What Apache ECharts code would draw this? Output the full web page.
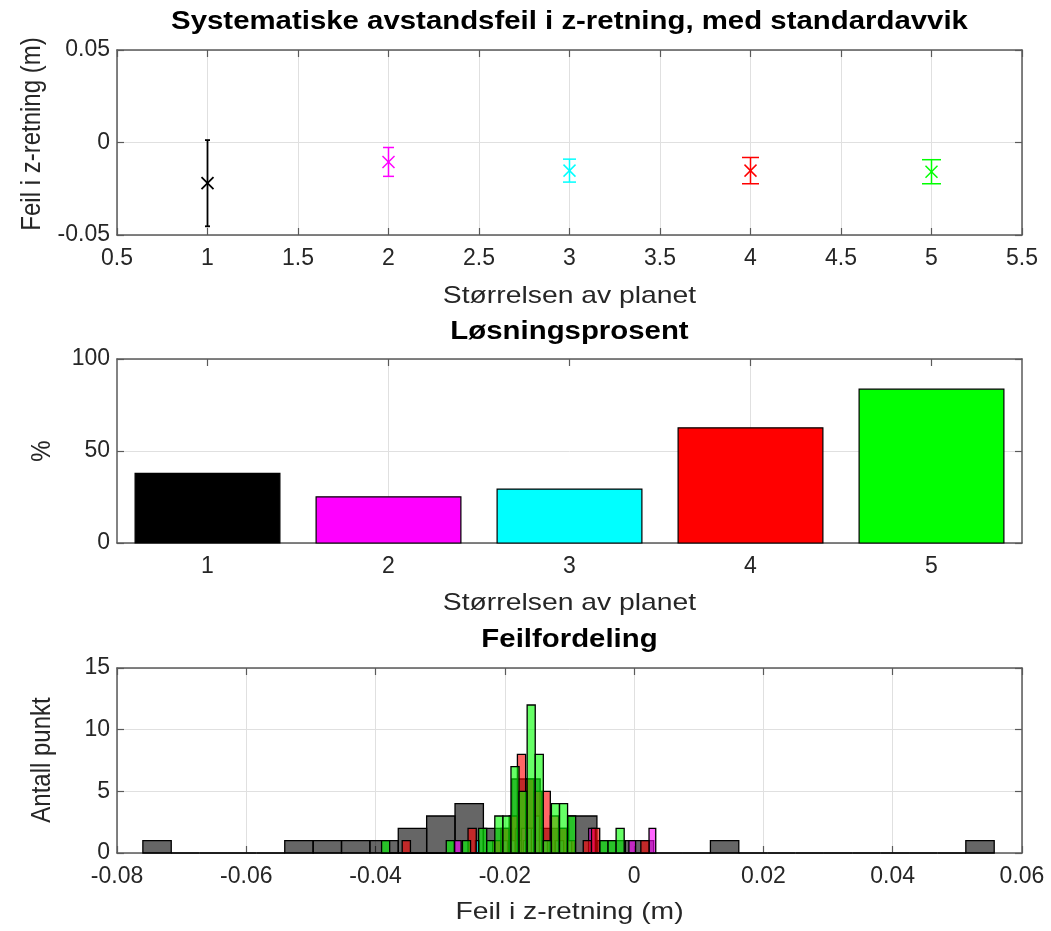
<!DOCTYPE html>
<html><head><meta charset="utf-8">
<script src="https://cdn.jsdelivr.net/npm/echarts@6/dist/echarts.min.js"></script>
<style>html,body{margin:0;padding:0;background:#fff}#c{width:1051px;height:931px}</style>
</head><body><div id="c"></div>
<script>
// ---------- data ----------
const planeSizes = [1, 2, 3, 4, 5];
const meanErr = [-0.022, -0.0105, -0.0152, -0.0152, -0.0158];
const stdErr = [0.0233, 0.0078, 0.0062, 0.0071, 0.0065];
const solvePct = [37.8, 25.1, 29.3, 62.6, 83.6];

const topXTicks = [0.5, 5.5, 0.5];     // min, max, step
const topYTicks = [-0.05, 0.05, 0.05];
const midYTicks = [0, 100, 50];
const botXTicks = [-0.08, 0.06, 0.02];
const botYTicks = [0, 15, 5];

// histogram bins: first edge, bin width, counts
const hist1Start = -0.0760, hist1Width = 0.00439;
const hist1Counts = [1,0,0,0,0,1,1,1,1,2,3,4,2,6,2,3,1,1,0,0,1,0,0,0,0,0,0,0,0,1];
const hist2Start = -0.0278, hist2Width = 0.001038;
const hist2Counts = [1,0,0,0,0,0,0,1,1,1,2,2,1,1,0,1,0,0,0,0,2,0,0,0,0,0,1,0,0,2];
const hist3Start = -0.02456, hist3Width = 0.00062;
const hist3Counts = [1,0,0,0,0,0,0,1,0,1,2,0,1,2,2,3,2,1,1,0,1,1,0,1,0,0,0,0,0,0];
const hist4Start = -0.03588, hist4Width = 0.001273;
const hist4Counts = [1,0,0,0,0,0,0,0,2,0,0,1,2,3,8,6,5,5,3,2,1,0,1,2,0,0,0,0,0,1];
const hist5Start = -0.03907, hist5Width = 0.001251;
const hist5Counts = [1,0,0,0,0,0,0,0,1,0,1,0,2,1,3,3,7,5,12,8,1,4,4,3,0,0,0,1,1,2];

// ---------- styles ----------
const colors = ['#000000', '#ff00ff', '#00ffff', '#ff0000', '#00ff00'];
const histFill = ['rgba(0,0,0,0.6)', 'rgba(255,0,255,0.6)', 'rgba(0,255,255,0.6)', 'rgba(255,0,0,0.6)', 'rgba(0,255,0,0.6)'];
const capPx = [5, 11, 13, 17, 19];
const FONT = 'Liberation Sans, Arial, Helvetica, sans-serif';
const textC = '#262626', axisC = '#5a5a5a', gridC = '#e0e0e0';
const tickFS = 23, nameFS = 24, titleFS = 26;
const stretch = 1.18;

const grids = [
  {left: 117, width: 905, top: 50, height: 185},
  {left: 117, width: 905, top: 359, height: 184},
  {left: 117, width: 905, top: 668, height: 185}
];

function xAxes(gi, t, extra) {
  const base = {gridIndex: gi, type: 'value', min: t[0], max: t[1], interval: t[2],
    axisLine: {show: true, onZero: false, lineStyle: {color: axisC, width: 1.5}},
    axisTick: {show: true, inside: true, length: 7, lineStyle: {color: axisC, width: 1.2}}};
  const bottom = Object.assign({}, base, {position: 'bottom',
    axisLabel: {color: textC, fontSize: tickFS, fontFamily: FONT, margin: 12},
    splitLine: {show: true, lineStyle: {color: gridC, width: 1}}}, extra || {});
  const top = Object.assign({}, base, {position: 'top', axisLabel: {show: false}, splitLine: {show: false}});
  if (extra && extra.axisTick) top.axisTick = extra.axisTick;
  return [bottom, top];
}
function yAxes(gi, t) {
  const base = {gridIndex: gi, type: 'value', min: t[0], max: t[1], interval: t[2],
    axisLine: {show: true, onZero: false, lineStyle: {color: axisC, width: 1.5}},
    axisTick: {show: true, inside: true, length: 7, lineStyle: {color: axisC, width: 1.2}}};
  const left = Object.assign({}, base, {position: 'left',
    axisLabel: {color: textC, fontSize: tickFS, fontFamily: FONT, margin: 7},
    splitLine: {show: true, lineStyle: {color: gridC, width: 1}}});
  const right = Object.assign({}, base, {position: 'right', axisLabel: {show: false}, splitLine: {show: false}});
  return [left, right];
}

const midTick = {show: true, inside: true, length: 7, customValues: planeSizes, lineStyle: {color: axisC, width: 1.2}};
const xAxisList = [].concat(
  xAxes(0, topXTicks),
  xAxes(1, [0.5, 5.5, 0.5], {
    axisLabel: {color: textC, fontSize: tickFS, fontFamily: FONT, margin: 12, customValues: planeSizes,
      formatter: v => Number.isInteger(v) ? String(v) : ''},
    axisTick: midTick,
    splitLine: {show: true, lineStyle: {color: ['rgba(0,0,0,0)', gridC], width: 1}}
  }),
  xAxes(2, botXTicks)
);
const yAxisList = [].concat(yAxes(0, topYTicks), yAxes(1, midYTicks), yAxes(2, botYTicks));

// error bar series
const errData = planeSizes.map((x, i) => [x, meanErr[i], stdErr[i], i]);
function errRender(params, api) {
  const x = api.value(0), m = api.value(1), e = api.value(2), i = api.value(3);
  const pT = api.coord([x, m + e]), pB = api.coord([x, m - e]), pC = api.coord([x, m]);
  const c = colors[i], h = capPx[i] / 2, s = 6;
  const st = {stroke: c, lineWidth: i === 0 ? 1.8 : 1.5};
  const L = (x1, y1, x2, y2) => ({type: 'line', shape: {x1, y1, x2, y2}, style: st});
  return {type: 'group', children: [
    L(pT[0], pT[1], pB[0], pB[1]),
    L(pT[0] - h, pT[1], pT[0] + h, pT[1]),
    L(pB[0] - h, pB[1], pB[0] + h, pB[1]),
    L(pC[0] - s, pC[1] - s, pC[0] + s, pC[1] + s),
    L(pC[0] - s, pC[1] + s, pC[0] + s, pC[1] - s)
  ]};
}

// bar series
const barData = planeSizes.map((x, i) => [x, solvePct[i], i]);
function barRender(params, api) {
  const x = api.value(0), v = api.value(1), i = api.value(2);
  const p0 = api.coord([x - 0.4, v]), p1 = api.coord([x + 0.4, 0]);
  return {type: 'rect', shape: {x: p0[0], y: p0[1], width: p1[0] - p0[0], height: p1[1] - p0[1]},
    style: {fill: colors[i], stroke: '#000', lineWidth: 1.2}};
}

// histogram series
function binsOf(start, width, counts) {
  return counts.map((c, k) => [start + k * width, start + (k + 1) * width, c]);
}
function histRender(fill) {
  return function (params, api) {
    const x0 = api.value(0), x1 = api.value(1), c = api.value(2);
    const p0 = api.coord([x0, c]), p1 = api.coord([x1, 0]);
    return {type: 'rect', shape: {x: p0[0], y: p0[1], width: p1[0] - p0[0], height: p1[1] - p0[1]},
      style: {fill: fill, stroke: '#000', lineWidth: 1.3}};
  };
}
const histSets = [
  binsOf(hist1Start, hist1Width, hist1Counts),
  binsOf(hist2Start, hist2Width, hist2Counts),
  binsOf(hist3Start, hist3Width, hist3Counts),
  binsOf(hist4Start, hist4Width, hist4Counts),
  binsOf(hist5Start, hist5Width, hist5Counts)
];

const series = [
  {type: 'custom', xAxisIndex: 0, yAxisIndex: 0, data: errData, renderItem: errRender, encode: {x: 0, y: 1}, z: 5},
  {type: 'custom', xAxisIndex: 2, yAxisIndex: 2, data: barData, renderItem: barRender, encode: {x: 0, y: 1}, z: 5}
].concat(histSets.map((d, i) => ({
  type: 'custom', xAxisIndex: 4, yAxisIndex: 4, data: d, renderItem: histRender(histFill[i]),
  encode: {x: [0, 1], y: 2}, z: 5
})));

function txt(text, x, y, size, bold, rot) {
  const el = {type: 'text', x: x, y: y, rotation: rot || 0, silent: true,
    style: {text: text, x: 0, y: 0, align: 'center', verticalAlign: 'middle',
      fill: bold ? '#000' : textC, font: (bold ? 'bold ' : '') + size + 'px ' + FONT}};
  if (rot) { el.scaleY = stretch; } else { el.scaleX = bold ? 1.13 : stretch; }
  return el;
}
const cx = 117 + 905 / 2;
const graphics = [
  txt('Systematiske avstandsfeil i z-retning, med standardavvik', cx, 22, titleFS, true),
  txt('Størrelsen av planet', cx, 296, nameFS, false),
  txt('Feil i z-retning (m)', 32, 134, nameFS, false, Math.PI / 2),
  txt('Løsningsprosent', cx, 332, titleFS, true),
  txt('Størrelsen av planet', cx, 603, nameFS, false),
  txt('%', 42, 451, nameFS, false, Math.PI / 2),
  txt('Feilfordeling', cx, 640, titleFS, true),
  txt('Feil i z-retning (m)', cx, 912, nameFS, false),
  txt('Antall punkt', 42, 760, nameFS, false, Math.PI / 2)
];

const chart = echarts.init(document.getElementById('c'), null, {renderer: 'canvas'});
chart.setOption({
  animation: false,
  backgroundColor: '#fff',
  grid: grids,
  xAxis: xAxisList,
  yAxis: yAxisList,
  series: series,
  graphic: graphics
});
</script></body></html>
